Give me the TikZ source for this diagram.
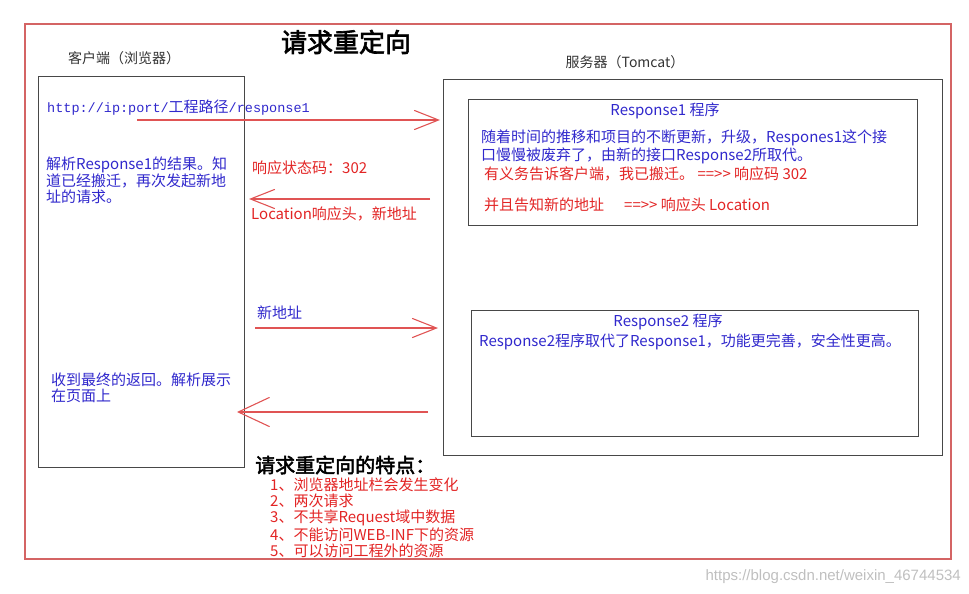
\documentclass[tikz,border=0pt]{standalone}
\usepackage{fontspec}
\setmainfont[AutoFakeBold=2.5]{Noto Sans CJK SC}
\newfontfamily\monoLatin{Liberation Mono}
\newfontfamily\markFont{Liberation Sans}
\usetikzlibrary{arrows.meta,positioning}
\definecolor{frameRed}{RGB}{212,100,100}
\definecolor{textRed}{RGB}{226,36,36}
\definecolor{arrowRed}{RGB}{224,84,84}
\definecolor{textBlue}{RGB}{48,40,204}
\definecolor{boxGray}{RGB}{72,72,72}
\newcommand{\pointsTo}{=\kern0pt=\kern0pt>\kern0pt>}

\begin{document}
\begin{tikzpicture}[x=1pt,y=-1pt,
		outerFrame/.style={draw=frameRed,line width=1.5pt},
		boxFrame/.style={draw=boxGray,line width=1pt,inner sep=0pt,anchor=north west},
		blueText/.style={text=textBlue,font=\fontsize{15}{16}\selectfont,inner sep=0pt},
		redText/.style={text=textRed,font=\fontsize{15}{16}\selectfont,inner sep=0pt},
		labelText/.style={text=black!80,font=\fontsize{14}{16}\selectfont,inner sep=0pt},
		headText/.style={text=black,font=\fontsize{#1}{#1}\selectfont\bfseries,inner sep=0pt},
		redArrow/.style={draw=arrowRed,line width=1.1pt,-{Straight Barb[length=24pt,width=19pt,line cap=round]}},
		bigHead/.style={-{Straight Barb[length=31pt,width=29pt,line cap=round]}}]
	\useasboundingbox (0,0) rectangle (969,594);
	\draw[outerFrame] (25,24) rectangle (951,559);

	\node[headText=26] (title) at (346,42) {请求重定向};
	\node[labelText,anchor=west] (clientLabel) at (68,58) {客户端（浏览器）};
	\node[labelText] (serverLabel) at (625,62) {服务器（Tomcat）};

	\node[boxFrame,minimum width=206pt,minimum height=391pt] (client) at (38,76) {};
	\node[boxFrame,minimum width=499pt,minimum height=376pt] (server) at (443,79) {};
	\node[boxFrame,minimum width=449pt,minimum height=126pt] (resp1) at (468,99) {};
	\node[boxFrame,minimum width=447pt,minimum height=126pt] (resp2) at (471,310) {};

	\node[blueText,anchor=west] (url) at (47,108)
		{{\fontsize{13.5}{16}\monoLatin http://ip:port/}工程路径{\fontsize{13.5}{16}\monoLatin /response1}};
	\node[blueText,anchor=north west,align=left] (parseNote) at (46,157)
		{解析Response1的结果。知\\道已经搬迁，再次发起新地\\址的请求。};
	\node[blueText,anchor=north west,align=left] (showNote) at (51,373)
		{收到最终的返回。解析展示\\在页面上};

	\node[redText,anchor=west] (statusCode) at (252,168) {响应状态码：302};
	\node[redText,anchor=west] (locationHead) at (251,214) {Location响应头，新地址};
	\node[blueText,anchor=west] (newAddr) at (257,313) {新地址};

	\node[blueText] (resp1Title) at (665,111) {Response1 程序};
	\node[blueText,anchor=north west,align=left] (resp1Note) at (481,130)
		{随着时间的推移和项目的不断更新，升级，Respones1这个接\\口慢慢被废弃了，由新的接口Response2所取代。};
	\node[redText,anchor=west] (resp1Code) at (484,174) {有义务告诉客户端，我已搬迁。 \pointsTo{} 响应码 302};
	\node[redText,anchor=west] (resp1Loc) at (484,205) {并且告知新的地址\hspace{20pt}\pointsTo{} 响应头 Location};

	\node[blueText] (resp2Title) at (668,322) {Response2 程序};
	\node[blueText,anchor=west] (resp2Note) at (479,342) {Response2程序取代了Response1，功能更完善，安全性更高。};

	\node[headText=20,anchor=west] (featTitle) at (255,465) {请求重定向的特点：};
	\node[redText,anchor=north west,align=left] (featList) at (270,478)
		{1、浏览器地址栏会发生变化\\2、两次请求\\3、不共享Request域中数据\\4、不能访问WEB-INF下的资源\\5、可以访问工程外的资源};

	\node[text=black!25,font=\fontsize{15}{16}\markFont,inner sep=0pt,anchor=east] (mark) at (961,577)
		{https://blog.csdn.net/weixin\_46744534};

	\coordinate (reqStart) at (137,120);
	\coordinate (reqEnd) at (440,120);
	\coordinate (moveStart) at (430,199);
	\coordinate (moveEnd) at (249,199);
	\coordinate (newStart) at (255,328);
	\coordinate (newEnd) at (438,328);
	\coordinate (backStart) at (428,412);
	\coordinate (backEnd) at (237,412);

	\draw[redArrow] (reqStart) -- (reqEnd);
	\draw[redArrow] (moveStart) -- (moveEnd);
	\draw[redArrow] (newStart) -- (newEnd);
	\draw[redArrow,bigHead] (backStart) -- (backEnd);
\end{tikzpicture}
\end{document}
